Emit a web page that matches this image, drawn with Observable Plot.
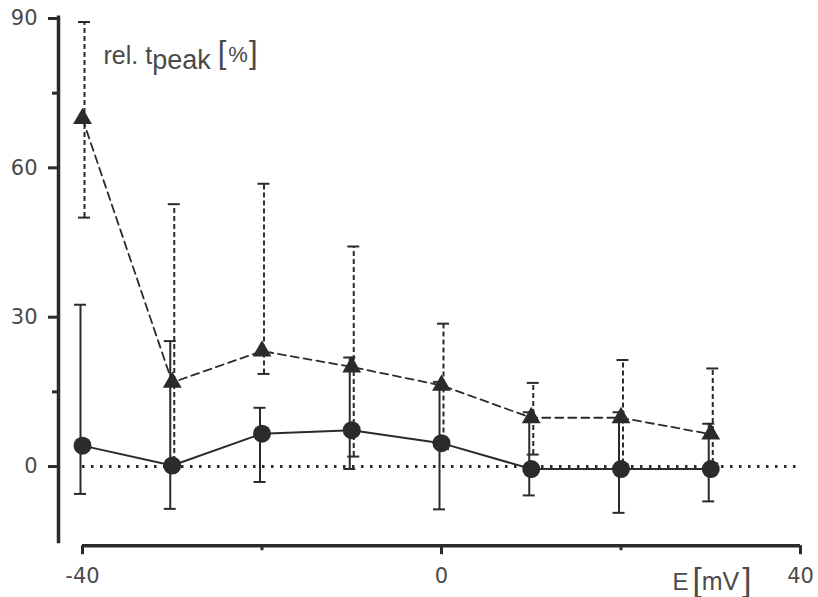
<!DOCTYPE html>
<html>
<head>
<meta charset="utf-8">
<script src="https://cdn.jsdelivr.net/npm/d3@7"></script>
<script src="https://cdn.jsdelivr.net/npm/@observablehq/plot@0.6"></script>
<style>
  html, body { margin: 0; padding: 0; background: #fff; }
</style>
</head>
<body>
<div id="chart"></div>
<script>
// Membrane potential E [mV]
const potentials = [-40, -30, -20, -10, 0, 10, 20, 30];
// Circles (solid line): mean and error bar ends
const circleMean = [4.2, 0.2, 6.6, 7.3, 4.7, -0.5, -0.5, -0.5];
const circleHigh = [32.5, 25.2, 11.8, 21.9, 17.0, 10.9, 10.9, 8.6];
const circleLow  = [-5.5, -8.5, -3.1, -0.5, -8.6, -5.8, -9.3, -7.0];
// Triangles (dashed line): mean and error bar ends
const triMean = [69.9, 16.9, 23.2, 20.0, 16.3, 9.8, 9.8, 6.5];
const triHigh = [89.3, 52.7, 56.8, 44.2, 28.7, 16.8, 21.4, 19.7];
const triLow  = [50.0, 1.0, 18.6, 2.0, 3.5, 2.4, 0.5, 0.6];
// Axis ticks
const yTicks = [0, 30, 60, 90];
const yMinorTicks = [15, 75];
const xTicks = [-40, 0, 40];
const xMinorTicks = [-20, 20];
const xDomain = [-40, 40];
const yDomain = [-15.5, 90.5];
const yLabel = "rel. tpeak [%]";
const xLabel = "E [mV]";

const rows = potentials.map((x, i) => ({
  x, cMean: circleMean[i], cHi: circleHigh[i], cLo: circleLow[i],
  tMean: triMean[i], tHi: triHigh[i], tLo: triLow[i]
}));

const ink = "#2b2b2b";
const txt = "#4a4a4a";
const tickFont = "'DejaVu Sans', sans-serif";

const chart = Plot.plot({
  width: 818,
  height: 597,
  marginLeft: 82,
  marginRight: 18,
  marginTop: 15.5,
  marginBottom: 53.8,
  style: { fontFamily: "'Liberation Sans', Arial, sans-serif", fontSize: "20px", color: txt, background: "#fff" },
  x: { domain: xDomain, label: null },
  y: { domain: yDomain, label: null },
  marks: [
    // axes lines
    Plot.ruleX([xDomain[0]], { dx: -24, stroke: ink, strokeWidth: 3.5 }),
    Plot.ruleY([yDomain[0]], { dy: 2, stroke: ink, strokeWidth: 3.5 }),
    Plot.axisY(yTicks, { anchor: "left", dx: -24, tickSize: 10, tickPadding: 11, stroke: ink, strokeWidth: 3, fill: txt, fontSize: 21, fontFamily: tickFont, label: null }),
    Plot.axisY(yMinorTicks, { anchor: "left", dx: -24, tickSize: 6, stroke: ink, strokeWidth: 3, tickFormat: () => "", label: null }),
    Plot.axisX(xTicks, { anchor: "bottom", dy: 2, tickSize: 9, tickPadding: 13, stroke: ink, strokeWidth: 3, fill: txt, fontSize: 21, fontFamily: tickFont, tickFormat: d => String(d), label: null }),
    Plot.axisX(xMinorTicks, { anchor: "bottom", dy: 2, tickSize: 5, stroke: ink, strokeWidth: 3, tickFormat: () => "", label: null }),
    // zero reference (dotted)
    Plot.ruleY([0], { stroke: ink, strokeWidth: 3, strokeDasharray: "2.5,6.5" }),
    // connecting lines
    Plot.line(rows, { x: "x", y: "cMean", stroke: ink, strokeWidth: 2 }),
    Plot.line(rows, { x: "x", y: "tMean", stroke: ink, strokeWidth: 1.8, strokeDasharray: "8,5" }),
    // circle error bars (solid)
    Plot.ruleX(rows, { x: "x", y1: "cLo", y2: "cHi", dx: -2, stroke: ink, strokeWidth: 2 }),
    Plot.ruleY(rows, { y: "cHi", x1: "x", x2: "x", dx: -2, insetLeft: -6, insetRight: -6, stroke: ink, strokeWidth: 2 }),
    Plot.ruleY(rows, { y: "cLo", x1: "x", x2: "x", dx: -2, insetLeft: -6, insetRight: -6, stroke: ink, strokeWidth: 2 }),
    // triangle error bars (dashed)
    Plot.ruleX(rows, { x: "x", y1: "tLo", y2: "tHi", dx: 2, stroke: ink, strokeWidth: 2, strokeDasharray: "5,3" }),
    Plot.ruleY(rows, { y: "tHi", x1: "x", x2: "x", dx: 2, insetLeft: -6, insetRight: -6, stroke: ink, strokeWidth: 2 }),
    Plot.ruleY(rows, { y: "tLo", x1: "x", x2: "x", dx: 2, insetLeft: -6, insetRight: -6, stroke: ink, strokeWidth: 2 }),
    // markers
    Plot.dot(rows, { x: "x", y: "cMean", r: 9, fill: ink, stroke: "none", symbol: "circle" }),
    Plot.dot(rows, { x: "x", y: "tMean", r: 7, fill: ink, stroke: "none", symbol: "triangle" }),
    // labels
    Plot.text([yLabel], { frameAnchor: "top-left", dx: 21, dy: 39.5, textAnchor: "start", lineAnchor: "middle", fontSize: 25, fill: txt }),
    Plot.text([xLabel], { frameAnchor: "bottom-right", dx: -128, dy: 39, textAnchor: "start", lineAnchor: "middle", fontSize: 24, fill: txt })
  ]
});

// Rich formatting for the two axis labels (subscript and tall brackets)
d3.select(chart).selectAll("text").each(function () {
  const t = d3.select(this);
  const s = t.text();
  if (s === yLabel) {
    t.text(null);
    t.append("tspan").text("rel. t");
    t.append("tspan").attr("dy", 5).attr("font-size", 27).text("peak");
    t.append("tspan").attr("dy", -6).attr("dx", 7).attr("font-size", 31).text("[");
    t.append("tspan").attr("font-size", 22).attr("dy", -1).attr("dx", 2).text("%");
    t.append("tspan").attr("font-size", 31).attr("dy", 1).attr("dx", 1).text("]");
  } else if (s === xLabel) {
    t.text(null);
    t.append("tspan").text("E");
    t.append("tspan").attr("font-size", 33).attr("dx", 4).attr("dy", 1).text("[");
    t.append("tspan").attr("font-size", 25).attr("dy", -1).text("mV");
    t.append("tspan").attr("font-size", 33).attr("dx", 3).attr("dy", 1).text("]");
  }
});

document.getElementById("chart").appendChild(chart);
</script>
</body>
</html>
